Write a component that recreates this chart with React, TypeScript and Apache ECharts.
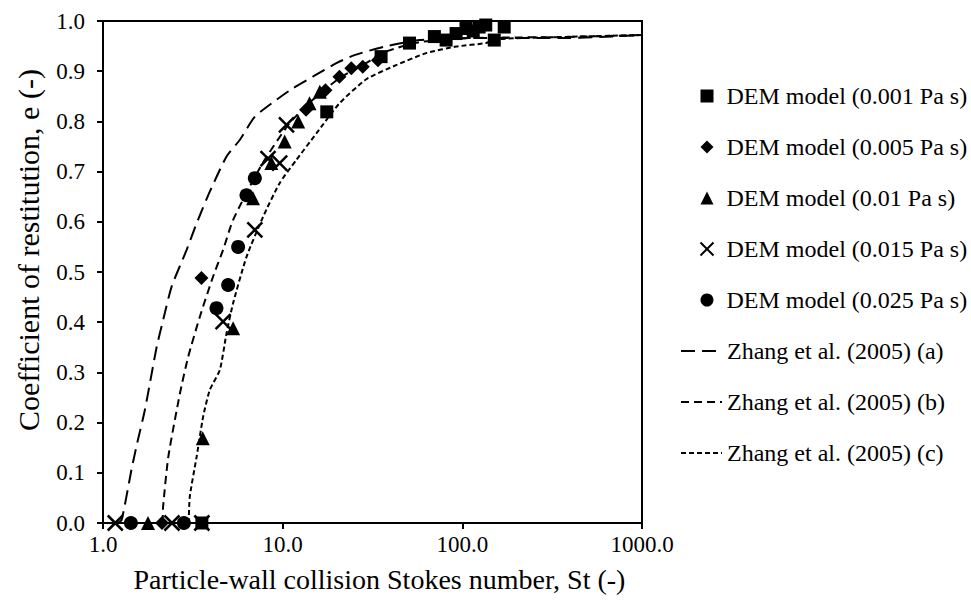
import React, { useEffect, useRef } from "react";
import * as echarts from "echarts";

// DEM model results: [St, e]
const dem0001: number[][] = [
  [3.55, 0], [17.6, 0.819], [35.3, 0.929], [50.8, 0.956], [69.9, 0.969], [81.2, 0.962],
  [92.3, 0.975], [104.8, 0.985], [115, 0.98], [124, 0.988], [135, 0.992], [150.6, 0.962], [171, 0.988],
];
const dem0005: number[][] = [
  [2.13, 0], [3.53, 0.488], [13.5, 0.823], [17.3, 0.862], [20.7, 0.889], [24.1, 0.906],
  [27.9, 0.909], [33.9, 0.922],
];
const dem001: number[][] = [
  [1.78, 0], [3.59, 0.169], [5.3, 0.388], [6.84, 0.647], [8.65, 0.717], [10.26, 0.76],
  [12.2, 0.8], [14.1, 0.836], [16.1, 0.859],
];
const dem0015: number[][] = [
  [1.17, 0], [2.42, 0], [3.55, 0], [4.66, 0.401], [7.0, 0.584], [8.29, 0.726], [9.62, 0.717],
  [10.5, 0.793],
];
const dem0025: number[][] = [
  [1.43, 0], [2.82, 0], [4.28, 0.428], [4.97, 0.474], [5.65, 0.55], [6.29, 0.653], [7.0, 0.687],
];

// Zhang et al. (2005) curves: [St, e]
const zhangA: number[][] = [
  [1.21, 0], [1.27, 0.006], [1.44, 0.106], [1.54, 0.155], [1.71, 0.225], [1.99, 0.351],
  [2.16, 0.404], [2.41, 0.471], [2.92, 0.544], [3.32, 0.597], [3.93, 0.66], [4.87, 0.73],
  [5.77, 0.763], [6.99, 0.809], [9.23, 0.843], [11.4, 0.866], [14.7, 0.889], [19.9, 0.916],
  [25.1, 0.932], [36.9, 0.949], [57.7, 0.962], [124, 0.966], [346, 0.966], [577, 0.968], [1000, 0.972],
];
const zhangB: number[][] = [
  [2.15, 0], [2.16, 0.032], [2.31, 0.132], [2.68, 0.258], [2.98, 0.331], [3.46, 0.411],
  [4.1, 0.491], [4.66, 0.544], [5.3, 0.604], [7.62, 0.713], [10.9, 0.796], [14.7, 0.843],
  [20.7, 0.886], [28.5, 0.914], [36.9, 0.938], [57.7, 0.958], [109, 0.966], [346, 0.968], [1000, 0.972],
];
const zhangC: number[][] = [
  [3.0, 0], [3.04, 0.052], [3.32, 0.132], [3.61, 0.212], [3.93, 0.265], [4.47, 0.305],
  [4.87, 0.378], [5.3, 0.438], [6.29, 0.53], [7.78, 0.61], [9.62, 0.677], [11.9, 0.723],
  [15.4, 0.776], [20.7, 0.836], [29.2, 0.884], [42.8, 0.912], [62.9, 0.936], [92.3, 0.949],
  [135, 0.956], [160, 0.964], [346, 0.968], [1000, 0.972],
];

const demNames = [
  "DEM model (0.001 Pa s)",
  "DEM model (0.005 Pa s)",
  "DEM model (0.01 Pa s)",
  "DEM model (0.015 Pa s)",
  "DEM model (0.025 Pa s)",
];
const zhangNames = [
  "Zhang et al. (2005) (a)",
  "Zhang et al. (2005) (b)",
  "Zhang et al. (2005) (c)",
];

const xTicks = [1, 10, 100, 1000];

const FONT = "'Liberation Serif', 'Times New Roman', serif";
const CROSS = "path://M0,0 L10,10 M10,0 L0,10";

export default function App() {
  const ref = useRef<HTMLDivElement>(null);
  useEffect(() => {
    if (!ref.current) return;
    const chart = echarts.init(ref.current, undefined, { renderer: "svg" });
    const scatter = (name: string, data: number[][], symbol: string, size: number, extra: any = {}) => ({
      name,
      type: "scatter",
      data,
      symbol,
      symbolSize: size,
      clip: false,
      z: 3,
      itemStyle: { color: "#000", opacity: 1, ...extra },
    });
    const line = (name: string, data: number[][], dash: number[]) => ({
      name,
      type: "line",
      data,
      symbol: "none",
      smooth: 0.2,
      z: 2,
      lineStyle: { color: "#000", width: 2, type: dash },
      itemStyle: { color: "#000" },
    });
    const legendText = { fontFamily: FONT, fontSize: 24, color: "#000", lineHeight: 24 };
    chart.setOption({
      animation: false,
      backgroundColor: "#fff",
      grid: {
        left: 103,
        right: 329,
        top: 21,
        bottom: 80,
        show: true,
        borderColor: "#000",
        borderWidth: 2,
      },
      legend: [
        {
          orient: "vertical",
          left: 693,
          top: 79,
          itemWidth: 13,
          itemHeight: 13,
          itemGap: 27,
          selectedMode: false,
          data: demNames,
          textStyle: { ...legendText, padding: [0, 0, 0, 8] },
        },
        {
          orient: "vertical",
          left: 675,
          top: 79 + 5 * 51,
          itemWidth: 41,
          itemHeight: 13,
          itemGap: 27,
          selectedMode: false,
          itemStyle: { opacity: 0 },
          data: zhangNames,
          textStyle: legendText,
        },
      ],
      xAxis: {
        type: "log",
        logBase: 10,
        min: 1,
        max: 1000,
        name: "Particle-wall collision Stokes number, St (-)",
        nameLocation: "middle",
        nameGap: 42,
        nameTextStyle: { fontFamily: FONT, fontSize: 28, color: "#000", padding: [0, 0, 0, 14] },
        axisLine: { lineStyle: { color: "#000", width: 2 } },
        axisTick: { show: true, inside: false, length: 6, lineStyle: { color: "#000", width: 2 } },
        minorTick: { show: false },
        splitLine: { show: false },
        axisLabel: {
          fontFamily: FONT,
          fontSize: 23,
          color: "#000",
          margin: 10,
          formatter: (v: number) => (xTicks.includes(Math.round(v)) ? Number(v).toFixed(1) : ""),
        },
      },
      yAxis: {
        type: "value",
        min: 0,
        max: 1,
        interval: 0.1,
        name: "Coefficient of restitution, e (-)",
        nameLocation: "middle",
        nameGap: 60,
        nameTextStyle: { fontFamily: FONT, fontSize: 30, color: "#000", padding: [0, 0, 0, 44] },
        axisLine: { show: true, lineStyle: { color: "#000", width: 2 } },
        axisTick: { show: true, inside: false, length: 6, lineStyle: { color: "#000", width: 2 } },
        splitLine: { show: false },
        axisLabel: {
          fontFamily: FONT,
          fontSize: 23,
          color: "#000",
          margin: 18,
          formatter: (v: number) => v.toFixed(1),
        },
      },
      series: [
        scatter(demNames[0], dem0001, "rect", 13),
        scatter(demNames[1], dem0005, "diamond", 14),
        scatter(demNames[2], dem001, "triangle", 14),
        scatter(demNames[3], dem0015, CROSS, 15, { borderColor: "#000", borderWidth: 2.5, color: "none" }),
        scatter(demNames[4], dem0025, "circle", 14),
        line(zhangNames[0], zhangA, [14, 7]),
        line(zhangNames[1], zhangB, [8, 5]),
        line(zhangNames[2], zhangC, [5, 3]),
      ],
    });
    return () => chart.dispose();
  }, []);
  return (
    <div
      ref={ref}
      style={{ position: "fixed", left: 0, top: 0, width: 971, height: 603, background: "#fff" }}
    />
  );
}
